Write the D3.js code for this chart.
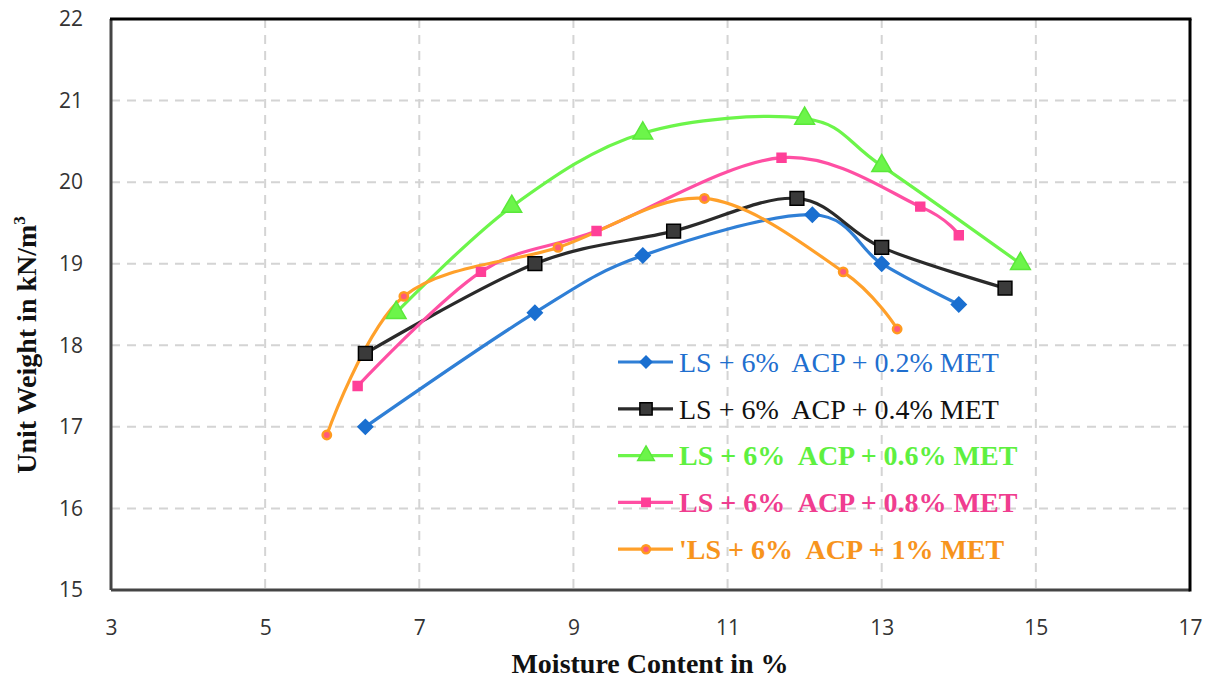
<!DOCTYPE html>
<html><head><meta charset="utf-8">
<script src="https://cdn.jsdelivr.net/npm/d3@7"></script>
<style>body{margin:0;background:#fff}svg{display:block}</style>
</head><body>
<svg id="c" width="1211" height="678"></svg>
<script>
const xTicks = [3,5,7,9,11,13,15,17];
const yTicks = [15,16,17,18,19,20,21,22];
const seriesNames = ["LS + 6%  ACP + 0.2% MET","LS + 6%  ACP + 0.4% MET","LS + 6%  ACP + 0.6% MET","LS + 6%  ACP + 0.8% MET","'LS + 6%  ACP + 1% MET"];
const x02 = [6.3, 8.5, 9.9, 12.1, 13.0, 14.0];
const y02 = [17.0, 18.4, 19.1, 19.6, 19.0, 18.5];
const x04 = [6.3, 8.5, 10.3, 11.9, 13.0, 14.6];
const y04 = [17.9, 19.0, 19.4, 19.8, 19.2, 18.7];
const x06 = [6.7, 8.2, 9.9, 12.0, 13.0, 14.8];
const y06 = [18.4, 19.7, 20.6, 20.78, 20.2, 19.0];
const x08 = [6.2, 7.8, 9.3, 11.7, 13.5, 14.0];
const y08 = [17.5, 18.9, 19.4, 20.3, 19.7, 19.35];
const x10 = [5.8, 6.8, 8.8, 10.7, 12.5, 13.2];
const y10 = [16.9, 18.6, 19.2, 19.8, 18.9, 18.2];

const svg = d3.select("#c");
const L=111, R=1190, T=19, B=590;
const x = d3.scaleLinear().domain([3,17]).range([L,R]);
const y = d3.scaleLinear().domain([15,22]).range([B,T]);

// grid
const g = svg.append("g");
g.selectAll(".vg").data(xTicks.slice(1,-1)).join("line")
  .attr("x1",d=>x(d)).attr("x2",d=>x(d)).attr("y1",T).attr("y2",B)
  .attr("stroke","#d4d4d4").attr("stroke-width",2).attr("stroke-dasharray","9,7");
g.selectAll(".hg").data(yTicks.slice(1,-1)).join("line")
  .attr("y1",d=>y(d)).attr("y2",d=>y(d)).attr("x1",L).attr("x2",R)
  .attr("stroke","#d4d4d4").attr("stroke-width",2).attr("stroke-dasharray","9,7");

// axes labels via d3 axes
const xAxis = d3.axisBottom(x).tickValues(xTicks).tickFormat(d3.format("d")).tickSize(0).tickPadding(30);
const yAxis = d3.axisLeft(y).tickValues(yTicks).tickFormat(d3.format("d")).tickSize(0).tickPadding(28);
const gx = svg.append("g").attr("transform",`translate(0,${B})`).call(xAxis);
const gy = svg.append("g").attr("transform",`translate(${L},0)`).call(yAxis);
[gx,gy].forEach(a=>{a.select(".domain").remove();
  a.selectAll("text").attr("font-family","'Open Sans', sans-serif").attr("font-size",21).attr("fill","#333");});
gx.selectAll("text").attr("dy","0.71em");

// border
svg.append("line").attr("x1",L).attr("x2",L).attr("y1",T).attr("y2",B).attr("stroke","#444").attr("stroke-width",3);
svg.append("line").attr("x1",L).attr("x2",R).attr("y1",B).attr("y2",B).attr("stroke","#444").attr("stroke-width",3);
svg.append("line").attr("x1",L-1).attr("x2",R+1.5).attr("y1",T).attr("y2",T).attr("stroke","#000").attr("stroke-width",3);
svg.append("line").attr("x1",R).attr("x2",R).attr("y1",T).attr("y2",B+1.5).attr("stroke","#000").attr("stroke-width",3);

const diamond = {draw(ctx,size){const r=Math.sqrt(size/2);ctx.moveTo(0,-r);ctx.lineTo(r,0);ctx.lineTo(0,r);ctx.lineTo(-r,0);ctx.closePath();}};
const series = [
  {xs:x02, ys:y02, line:"#2f7fd6", mfill:"#1a6fd0", mstroke:"#1a6fd0", sym:diamond, size:110, lsize:70, text:"#1f6fcf", bold:false},
  {xs:x04, ys:y04, line:"#2a2a2a", mfill:"#3a3a3a", mstroke:"#000", sym:d3.symbolSquare, size:190, lsize:150, text:"#111", bold:false},
  {xs:x06, ys:y06, line:"#6cf54a", mfill:"#6cf54a", mstroke:"#5ae83a", sym:d3.symbolTriangle, size:170, lsize:120, text:"#5ef040", bold:true},
  {xs:x08, ys:y08, line:"#ff4fa3", mfill:"#ff3f98", mstroke:"#ff3f98", sym:d3.symbolSquare, size:80, lsize:70, text:"#f03d8f", bold:true},
  {xs:x10, ys:y10, line:"#ffa02a", mfill:"#ff5a7a", mstroke:"#ff9a20", sym:d3.symbolCircle, size:55, lsize:50, text:"#f7941d", bold:true}
];

const lineGen = d3.line().x(d=>x(d[0])).y(d=>y(d[1])).curve(d3.curveCardinal.tension(0));
series.forEach(s=>{
  const pts = s.xs.map((v,i)=>[v,s.ys[i]]);
  svg.append("path").attr("d",lineGen(pts)).attr("fill","none").attr("stroke",s.line).attr("stroke-width",3.2);
});
series.forEach(s=>{
  const pts = s.xs.map((v,i)=>[v,s.ys[i]]);
  svg.selectAll(null).data(pts).join("path")
    .attr("transform",d=>`translate(${x(d[0])},${y(d[1])})`)
    .attr("d",d3.symbol(s.sym,s.size)())
    .attr("fill",s.mfill).attr("stroke",s.mstroke).attr("stroke-width",s.sym===d3.symbolCircle?2.5:1.5);
});

// legend
const lg = svg.append("g");
const ly0 = 362, ldy = 46.8;
series.forEach((s,i)=>{
  const yy = ly0 + i*ldy;
  lg.append("line").attr("x1",618).attr("x2",673).attr("y1",yy).attr("y2",yy).attr("stroke",s.line).attr("stroke-width",3.2);
  lg.append("path").attr("transform",`translate(646,${yy})`).attr("d",d3.symbol(s.sym,s.lsize)())
    .attr("fill",s.mfill).attr("stroke",s.mstroke).attr("stroke-width",s.sym===d3.symbolCircle?2.5:1.5);
  lg.append("text").attr("x",679).attr("y",yy).attr("dy","0.35em")
    .attr("font-family","'Liberation Serif', 'Times New Roman', serif").attr("font-size",28)
    .attr("font-weight",s.bold?"bold":"normal").attr("fill",s.text)
    .style("white-space","pre").text(seriesNames[i]);
});

// axis titles
svg.append("text").attr("x",650).attr("y",673).attr("text-anchor","middle")
  .attr("font-family","'Liberation Serif', serif").attr("font-weight","bold").attr("font-size",28).attr("fill","#111")
  .text("Moisture Content in %");
const yt = svg.append("text").attr("transform",`translate(36,345) rotate(-90)`).attr("text-anchor","middle")
  .attr("font-family","'Liberation Serif', serif").attr("font-weight","bold").attr("font-size",28).attr("fill","#111");
yt.append("tspan").text("Unit Weight in kN/m");
yt.append("tspan").attr("font-size",17).attr("dy",-11).text("3");
</script>
</body></html>
